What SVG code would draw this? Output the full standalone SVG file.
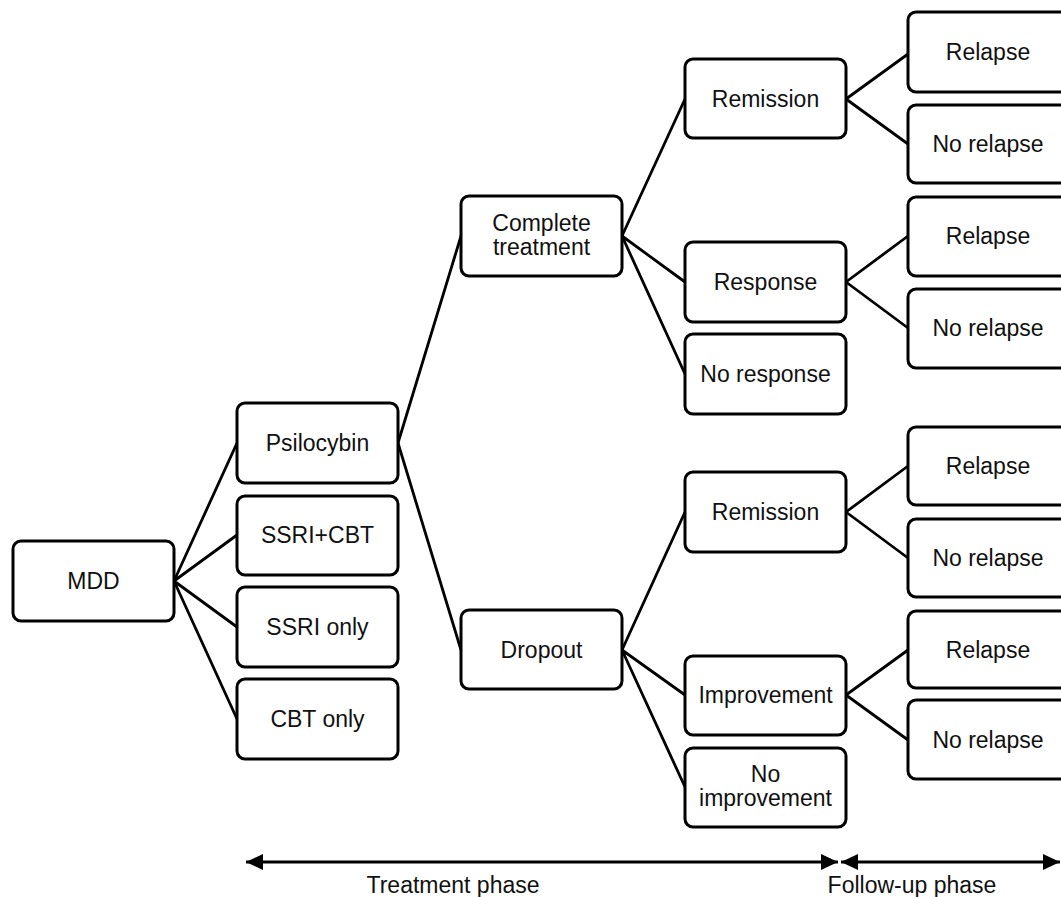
<svg xmlns="http://www.w3.org/2000/svg" width="1061" height="897" viewBox="0 0 1061 897">
<style>
.box{fill:#fff;stroke:#000;stroke-width:3}
.t{font-family:"Liberation Sans",Arial,sans-serif;font-size:23px;fill:#111;text-anchor:middle}
.c{fill:none;stroke:#000;stroke-width:2.8}
.ax{fill:none;stroke:#000;stroke-width:3}
</style>
<defs>
<marker id="ah" markerUnits="userSpaceOnUse" markerWidth="18" markerHeight="18" viewBox="0 0 18 18" refX="17" refY="9" orient="auto-start-reverse">
<path d="M0,1 L17,9 L0,17 Z" fill="#000"/>
</marker>
</defs>
<rect width="1061" height="897" fill="#fff"/>
<g id="connectors">
<path class="c" d="M174,581 L237,443 M174,581 L237,535 M174,581 L237,627 M174,581 L237,719"/>
<path class="c" d="M398,443 L461,236 M398,443 L461,650"/>
<path class="c" d="M622,236 L685,99 M622,236 L685,282 M622,236 L685,374"/>
<path class="c" d="M622,650 L685,512 M622,650 L685,695 M622,650 L685,787"/>
<path class="c" d="M846,99 L908,54 M846,99 L908,144"/>
<path class="c" d="M846,282 L908,236 M846,282 L908,328"/>
<path class="c" d="M846,512 L908,466 M846,512 L908,558"/>
<path class="c" d="M846,695 L908,650 M846,695 L908,740"/>
</g>
<g id="mdd"><rect class="box" x="13" y="541" width="161" height="80" rx="8"/><text class="t" x="93.5" y="589">MDD</text></g>
<g id="psilocybin"><rect class="box" x="237" y="403" width="161" height="80" rx="8"/><text class="t" x="317.5" y="451">Psilocybin</text></g>
<g id="ssri-cbt"><rect class="box" x="237" y="496" width="161" height="79" rx="8"/><text class="t" x="317.5" y="543">SSRI+CBT</text></g>
<g id="ssri-only"><rect class="box" x="237" y="587" width="161" height="80" rx="8"/><text class="t" x="317.5" y="635">SSRI only</text></g>
<g id="cbt-only"><rect class="box" x="237" y="679" width="161" height="80" rx="8"/><text class="t" x="317.5" y="727">CBT only</text></g>
<g id="complete"><rect class="box" x="461" y="196" width="161" height="80" rx="8"/><text class="t" x="541.5" y="231">Complete</text><text class="t" x="541.5" y="255">treatment</text></g>
<g id="dropout"><rect class="box" x="461" y="610" width="161" height="79" rx="8"/><text class="t" x="541.5" y="658">Dropout</text></g>
<g id="remission1"><rect class="box" x="685" y="59" width="161" height="79" rx="8"/><text class="t" x="765.5" y="107">Remission</text></g>
<g id="response"><rect class="box" x="685" y="242" width="161" height="80" rx="8"/><text class="t" x="765.5" y="290">Response</text></g>
<g id="no-response"><rect class="box" x="685" y="334" width="161" height="80" rx="8"/><text class="t" x="765.5" y="382">No response</text></g>
<g id="remission2"><rect class="box" x="685" y="472" width="161" height="80" rx="8"/><text class="t" x="765.5" y="520">Remission</text></g>
<g id="improvement"><rect class="box" x="685" y="656" width="161" height="79" rx="8"/><text class="t" x="765.5" y="703">Improvement</text></g>
<g id="no-improvement"><rect class="box" x="685" y="748" width="161" height="79" rx="8"/><text class="t" x="765.5" y="782">No</text><text class="t" x="765.5" y="806">improvement</text></g>
<g id="relapse1"><rect class="box" x="908" y="12" width="161" height="80" rx="8"/><text class="t" x="988" y="60">Relapse</text></g>
<g id="norelapse1"><rect class="box" x="908" y="105" width="161" height="78" rx="8"/><text class="t" x="988" y="152">No relapse</text></g>
<g id="relapse2"><rect class="box" x="908" y="197" width="161" height="79" rx="8"/><text class="t" x="988" y="244">Relapse</text></g>
<g id="norelapse2"><rect class="box" x="908" y="289" width="161" height="79" rx="8"/><text class="t" x="988" y="336">No relapse</text></g>
<g id="relapse3"><rect class="box" x="908" y="427" width="161" height="78" rx="8"/><text class="t" x="988" y="474">Relapse</text></g>
<g id="norelapse3"><rect class="box" x="908" y="519" width="161" height="78" rx="8"/><text class="t" x="988" y="566">No relapse</text></g>
<g id="relapse4"><rect class="box" x="908" y="611" width="161" height="77" rx="8"/><text class="t" x="988" y="658">Relapse</text></g>
<g id="norelapse4"><rect class="box" x="908" y="700" width="161" height="79" rx="8"/><text class="t" x="988" y="748">No relapse</text></g>
<g id="phases">
<line class="ax" x1="246" y1="862" x2="838" y2="862" marker-start="url(#ah)" marker-end="url(#ah)"/>
<line class="ax" x1="841" y1="862" x2="1060" y2="862" marker-start="url(#ah)" marker-end="url(#ah)"/>
<text class="t" x="453" y="893">Treatment phase</text>
<text class="t" x="912" y="893">Follow-up phase</text>
</g>
</svg>
